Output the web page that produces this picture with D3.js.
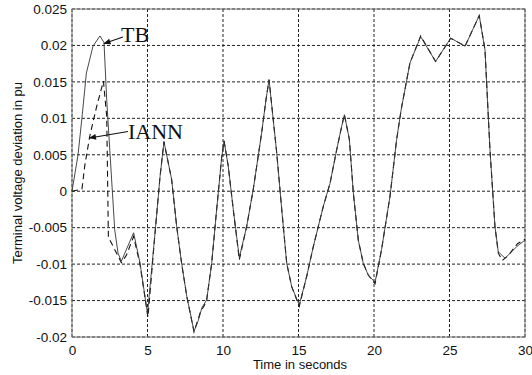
<!DOCTYPE html>
<html>
<head>
<meta charset="utf-8">
<script src="https://cdn.jsdelivr.net/npm/d3@7"></script>
<style>
  body { margin: 0; background: #fff; }
  text { font-family: "Liberation Sans", Arial, sans-serif; fill: #111; }
</style>
</head>
<body>
<svg id="chart" width="532" height="375"></svg>
<script>
// values
var tbTime = [0, 0.4, 0.68, 0.95, 1.39, 1.85, 2.12, 2.3, 2.83, 3.05, 3.27, 4.08, 4.5, 5.0, 5.5, 5.83,
  6.09, 6.6, 6.93, 7.26, 7.6, 8.08, 8.37, 8.6, 8.92, 9.25, 9.58, 9.91, 10.07, 10.35, 10.68, 11.08,
  11.57, 12.0, 12.56, 12.85, 13.05, 13.56, 13.89, 14.22, 14.55, 15.05, 15.54, 15.98, 16.64, 17.09,
  17.53, 17.86, 18.04, 18.37, 18.63, 18.96, 19.29, 19.62, 20.07, 20.5, 21.06, 21.5, 21.8, 22.38,
  23.09, 24.08, 25.08, 26.03, 26.97, 27.35, 27.68, 28.01, 28.23, 28.68, 29.45, 30];
var tbVolt = [0, 0.005, 0.0105, 0.0162, 0.0199, 0.0213, 0.0204, 0.0125, -0.0053, -0.0085, -0.0096,
  -0.0057, -0.0098, -0.0168, -0.0057, 0.002, 0.0068, 0.0016, -0.0048, -0.0099, -0.0144, -0.0192,
  -0.0177, -0.016, -0.0149, -0.0099, -0.0025, 0.0046, 0.0069, 0.0034, -0.0025, -0.0091, -0.0048,
  0.0002, 0.008, 0.0126, 0.0153, 0.0052, -0.0025, -0.0099, -0.0131, -0.0156, -0.0117, -0.0076,
  -0.0021, 0.0011, 0.0057, 0.0089, 0.0105, 0.0071, -0.0002, -0.0067, -0.0099, -0.0115, -0.0125,
  -0.008, -0.0007, 0.0071, 0.0112, 0.0176, 0.0212, 0.0178, 0.021, 0.0199, 0.0241, 0.0194, 0.0057,
  -0.0048, -0.0083, -0.0092, -0.0076, -0.0067];

var iannTime = [0, 0.66, 0.84, 1.17, 1.63, 2.08, 2.3, 2.41, 3.27, 3.6, 4.08, 4.5, 5.03, 5.5, 5.83,
  6.09, 6.6, 6.93, 7.26, 7.6, 8.08, 8.35, 8.5, 8.75, 8.92, 9.25, 9.58, 9.91, 10.07, 10.35, 10.68,
  11.08, 11.57, 12.0, 12.56, 12.85, 13.05, 13.56, 13.89, 14.22, 14.55, 15.05, 15.54, 15.98, 16.64,
  17.09, 17.53, 17.86, 18.04, 18.37, 18.63, 18.96, 19.29, 19.62, 20.07, 20.5, 21.06, 21.5, 21.8,
  22.38, 23.09, 24.08, 25.08, 26.03, 26.97, 27.35, 27.68, 28.01, 28.23, 28.5, 28.9, 29.5, 30];
var iannVolt = [0, 0.0003, 0.0034, 0.0075, 0.0116, 0.0151, 0.0103, -0.0063, -0.0098, -0.0088,
  -0.0062, -0.01, -0.0173, -0.0057, 0.002, 0.0068, 0.0016, -0.0048, -0.0099, -0.0144, -0.0193,
  -0.0176, -0.0166, -0.0157, -0.0149, -0.0099, -0.0025, 0.0046, 0.0069, 0.0034, -0.0025, -0.0094,
  -0.0048, 0.0002, 0.008, 0.0126, 0.0153, 0.0052, -0.0025, -0.0099, -0.0131, -0.0158, -0.0117,
  -0.0076, -0.0021, 0.0011, 0.0057, 0.0089, 0.0105, 0.0071, -0.0002, -0.0067, -0.0099, -0.0115,
  -0.0127, -0.008, -0.0007, 0.0071, 0.0112, 0.0176, 0.0213, 0.0178, 0.021, 0.0199, 0.0241, 0.0194,
  0.0057, -0.0048, -0.0085, -0.0095, -0.0088, -0.0072, -0.0066];

var xTicks = [0, 5, 10, 15, 20, 25, 30];
var yTicks = [-0.02, -0.015, -0.01, -0.005, 0, 0.005, 0.01, 0.015, 0.02, 0.025];
var yTickLabels = ["-0.02", "-0.015", "-0.01", "-0.005", "0", "0.005", "0.01", "0.015", "0.02", "0.025"];

var margin = {left: 72, right: 7, top: 9, bottom: 38};
var W = 532, H = 375;
var svg = d3.select("#chart");

var x = d3.scaleLinear().domain([0, 30]).range([margin.left, W - margin.right]);
var y = d3.scaleLinear().domain([-0.02, 0.025]).range([H - margin.bottom, margin.top]);

// grid
var grid = svg.append("g");
grid.selectAll(".gx").data(xTicks).enter().append("line")
  .attr("x1", d => x(d)).attr("x2", d => x(d))
  .attr("y1", y(-0.02)).attr("y2", y(0.025))
  .attr("stroke", "#222").attr("stroke-width", 1).attr("stroke-dasharray", "3,2");
grid.selectAll(".gy").data(yTicks).enter().append("line")
  .attr("x1", x(0)).attr("x2", x(30))
  .attr("y1", d => y(d)).attr("y2", d => y(d))
  .attr("stroke", "#222").attr("stroke-width", 1).attr("stroke-dasharray", "3,2");

// frame
svg.append("rect")
  .attr("x", x(0)).attr("y", y(0.025))
  .attr("width", x(30) - x(0)).attr("height", y(-0.02) - y(0.025))
  .attr("fill", "none").attr("stroke", "#777").attr("stroke-width", 1);

// axes
var xAxis = d3.axisBottom(x).tickValues(xTicks).tickSize(0).tickPadding(8);
svg.append("g").attr("transform", "translate(0," + y(-0.02) + ")").call(xAxis)
  .call(g => g.select(".domain").remove())
  .selectAll("text").style("font-size", "13.5px").attr("fill", "#111");

var yAxis = d3.axisLeft(y).tickValues(yTicks).tickSize(0).tickPadding(5)
  .tickFormat((d, i) => yTickLabels[i]);
svg.append("g").attr("transform", "translate(" + x(0) + ",0)").call(yAxis)
  .call(g => g.select(".domain").remove())
  .selectAll("text").style("font-size", "13.5px").attr("fill", "#111");

// labels
svg.append("text").attr("x", 300).attr("y", 369).attr("text-anchor", "middle")
  .style("font-size", "13px").text("Time in seconds");
svg.append("text").attr("transform", "translate(22,173) rotate(-90)").attr("text-anchor", "middle")
  .style("font-size", "13px").text("Terminal voltage deviation in pu");

// curves
var line = d3.line().x(d => x(d[0])).y(d => y(d[1]));
var tb = tbTime.map((t, i) => [t, tbVolt[i]]);
var iann = iannTime.map((t, i) => [t, iannVolt[i]]);

svg.append("path").datum(iann).attr("d", line)
  .attr("fill", "none").attr("stroke", "#111").attr("stroke-width", 1.1)
  .attr("stroke-dasharray", "6,4");
svg.append("path").datum(tb).attr("d", line)
  .attr("fill", "none").attr("stroke", "#333").attr("stroke-width", 0.9);

// annotations
svg.append("defs").append("marker").attr("id", "arr")
  .attr("viewBox", "0 0 10 10").attr("refX", 9).attr("refY", 5)
  .attr("markerWidth", 7).attr("markerHeight", 6).attr("orient", "auto")
  .append("path").attr("d", "M0,1 L10,5 L0,9 Z").attr("fill", "#111");

svg.append("line").attr("x1", 123).attr("y1", 37).attr("x2", 104).attr("y2", 43.5)
  .attr("stroke", "#111").attr("stroke-width", 1.2).attr("marker-end", "url(#arr)");
svg.append("text").attr("x", 121).attr("y", 42)
  .style("font-family", "'Liberation Serif', 'Times New Roman', serif").style("font-size", "22px")
  .text("TB");

svg.append("line").attr("x1", 128).attr("y1", 131.5).attr("x2", 89.5).attr("y2", 138)
  .attr("stroke", "#111").attr("stroke-width", 1.2).attr("marker-end", "url(#arr)");
svg.append("text").attr("x", 128).attr("y", 138.5)
  .style("font-family", "'Liberation Serif', 'Times New Roman', serif").style("font-size", "22px")
  .text("IANN");
</script>
</body>
</html>
